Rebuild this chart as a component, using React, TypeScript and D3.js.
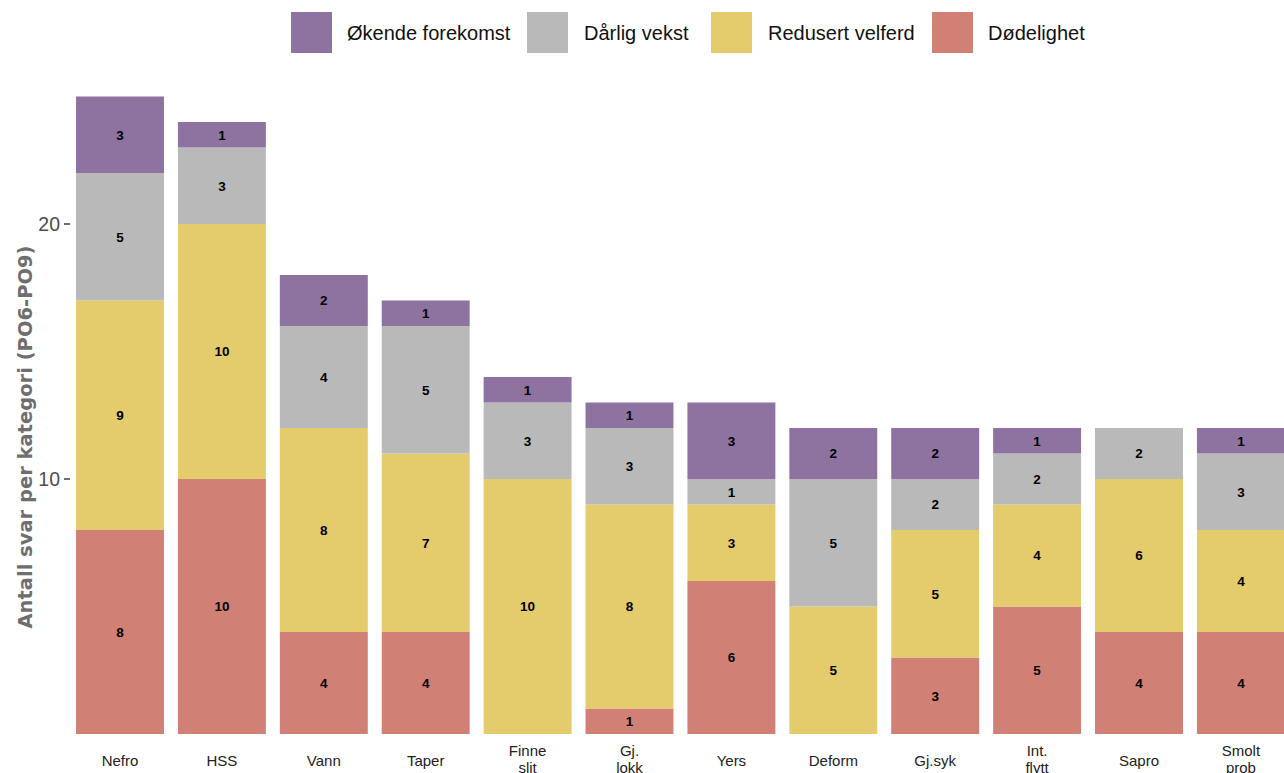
import React from "react";
import * as d3 from "d3";

const categories = ["Nefro", "HSS", "Vann", "Taper", "Finne\nslit", "Gj.\nlokk", "Yers", "Deform", "Gj.syk", "Int.\nflytt", "Sapro", "Smolt\nprob"];
const seriesNames = ["Dødelighet", "Redusert velferd", "Dårlig vekst", "Økende forekomst"];
const dodelighet = [8, 10, 4, 4, 0, 1, 6, 0, 3, 5, 4, 4];
const redusertVelferd = [9, 10, 8, 7, 10, 8, 3, 5, 5, 4, 6, 4];
const darligVekst = [5, 3, 4, 5, 3, 3, 1, 5, 2, 2, 2, 3];
const okendeForekomst = [3, 1, 2, 1, 1, 1, 3, 2, 2, 1, 0, 1];
const yTicks = [10, 20];
const legendOrder = ["Økende forekomst", "Dårlig vekst", "Redusert velferd", "Dødelighet"];
const colors: Record<string, string> = {
  "Dødelighet": "#D08075",
  "Redusert velferd": "#E4CB6C",
  "Dårlig vekst": "#B9B9B9",
  "Økende forekomst": "#8E73A1",
};

const W = 1284;
const H = 773;

export default function App() {
  const seriesValues = [dodelighet, redusertVelferd, darligVekst, okendeForekomst];
  const rows = categories.map((c, i) => {
    const r: any = { cat: c };
    seriesNames.forEach((s, k) => (r[s] = seriesValues[k][i]));
    return r;
  });
  const stacked = d3.stack<any>().keys(seriesNames)(rows);

  const step = 101.9;
  const x0 = 120 - step / 2;
  const x = d3
    .scaleBand<string>()
    .domain(categories)
    .range([x0, x0 + step * categories.length])
    .paddingInner(0.137)
    .paddingOuter(0.0685);
  const y = d3.scaleLinear().domain([0, 25]).range([734, 96.5]);

  const legendItems = [
    { name: "Økende forekomst", sx: 291, tx: 347 },
    { name: "Dårlig vekst", sx: 527, tx: 584 },
    { name: "Redusert velferd", sx: 711, tx: 768 },
    { name: "Dødelighet", sx: 932, tx: 988 },
  ];

  return (
    <svg
      width={W}
      height={H}
      style={{ position: "absolute", left: 0, top: 0, display: "block", background: "#fff" }}
      fontFamily="'Liberation Sans', Arial, sans-serif"
    >
      <rect width={W} height={H} fill="#fff" />
      {/* Legend */}
      {legendOrder.map((name) => {
        const it = legendItems.find((l) => l.name === name)!;
        return (
          <g key={name}>
            <rect x={it.sx} y={12} width={41} height={41} fill={colors[name]} />
            <text x={it.tx} y={33} dy="0.36em" fontSize={20} fill="#111">
              {name}
            </text>
          </g>
        );
      })}

      {/* Bars */}
      {stacked.map((layer) => (
        <g key={layer.key} fill={colors[layer.key]}>
          {layer.map((d, i) => {
            const v = d[1] - d[0];
            if (v <= 0) return null;
            const cat = categories[i];
            const bx = x(cat)!;
            const top = y(d[1]);
            const bot = y(d[0]);
            return (
              <g key={cat}>
                <rect x={bx} y={top} width={x.bandwidth()} height={bot - top} />
                <text
                  x={bx + x.bandwidth() / 2}
                  y={(top + bot) / 2}
                  dy="0.36em"
                  textAnchor="middle"
                  fontSize={13.5}
                  fontWeight="bold"
                  fill="#000"
                >
                  {v}
                </text>
              </g>
            );
          })}
        </g>
      ))}

      {/* Y axis */}
      {yTicks.map((t) => (
        <g key={t}>
          <line x1={64} x2={70} y1={y(t)} y2={y(t)} stroke="#333" strokeWidth={1.4} />
          <text x={60} y={y(t)} dy="0.36em" textAnchor="end" fontSize={19.5} fill="#4D4D4D">
            {t}
          </text>
        </g>
      ))}
      <text
        transform={`translate(32,437) rotate(-90)`}
        textAnchor="middle"
        fontSize={19.5}
        fill="#6E6E6E"
        fontWeight="bold"
        fontFamily="'DejaVu Sans', Verdana, sans-serif"
      >
        Antall svar per kategori (PO6-PO9)
      </text>

      {/* X labels */}
      {categories.map((c) => {
        const lines = c.split("\n");
        const cx = x(c)! + x.bandwidth() / 2;
        return (
          <text key={c} x={cx} textAnchor="middle" fontSize={15} fill="#222">
            {lines.map((ln, k) => (
              <tspan key={k} x={cx} y={lines.length === 1 ? 765.5 : 756 + k * 17}>
                {ln}
              </tspan>
            ))}
          </text>
        );
      })}
    </svg>
  );
}
